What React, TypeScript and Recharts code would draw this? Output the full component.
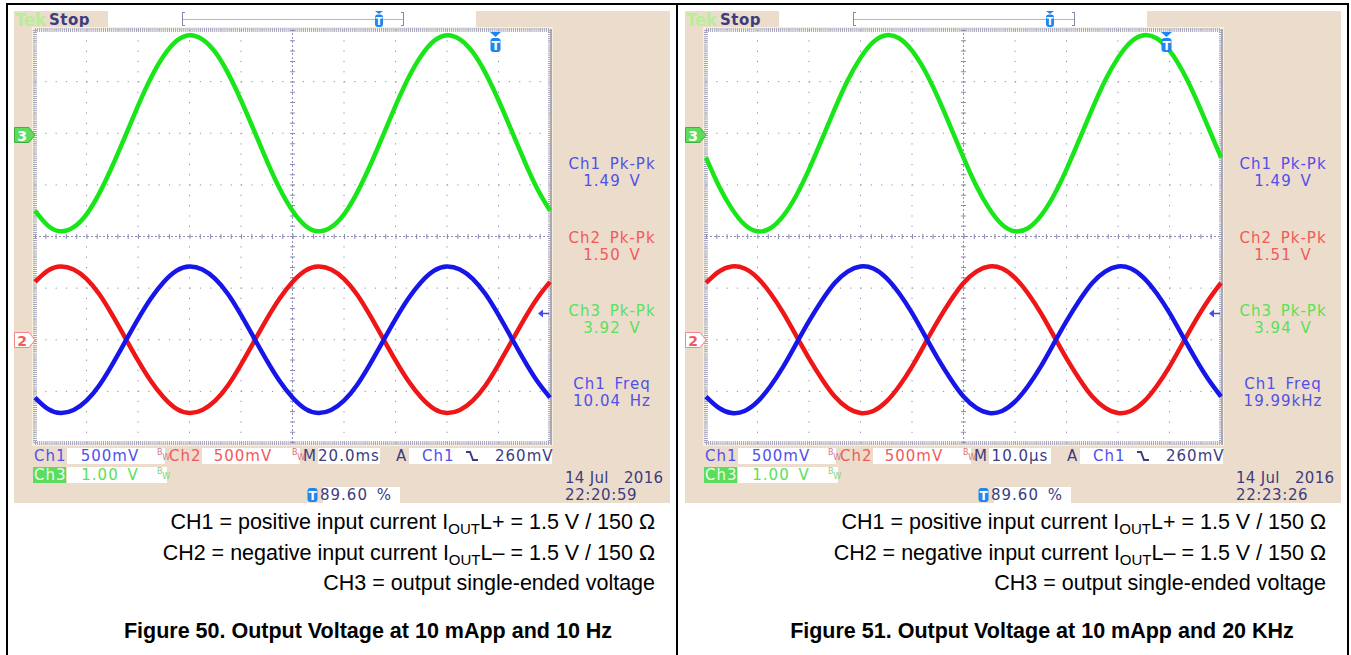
import React from 'react';
import { LineChart, Line, XAxis, YAxis, CartesianGrid, ReferenceLine } from 'recharts';

// Figure 50: 10 Hz, 20.0 ms/div. Time in ms, channel values in volts (relative to channel ground)
const fig50Time = [0, 5, 10, 15, 20, 25, 30, 35, 40, 45, 50, 55, 60, 65, 70, 75, 80, 85, 90, 95, 100, 105, 110, 115, 120, 125, 130, 135, 140, 145, 150, 155, 160, 165, 170, 175, 180, 185, 190, 195, 200];
const fig50Ch1 = [-0.56, -0.67, -0.71, -0.68, -0.59, -0.44, -0.24, -0.02, 0.2, 0.4, 0.56, 0.67, 0.71, 0.68, 0.59, 0.44, 0.24, 0.02, -0.2, -0.4, -0.56, -0.67, -0.71, -0.68, -0.59, -0.44, -0.24, -0.02, 0.2, 0.4, 0.56, 0.67, 0.71, 0.68, 0.59, 0.44, 0.24, 0.02, -0.2, -0.4, -0.56];
const fig50Ch2 = [0.56, 0.67, 0.71, 0.68, 0.59, 0.44, 0.24, 0.02, -0.2, -0.4, -0.56, -0.67, -0.71, -0.68, -0.59, -0.44, -0.24, -0.02, 0.2, 0.4, 0.56, 0.67, 0.71, 0.68, 0.59, 0.44, 0.24, 0.02, -0.2, -0.4, -0.56, -0.67, -0.71, -0.68, -0.59, -0.44, -0.24, -0.02, 0.2, 0.4, 0.56];
const fig50Ch3 = [-1.5, -1.79, -1.9, -1.82, -1.57, -1.16, -0.64, -0.06, 0.53, 1.07, 1.5, 1.79, 1.9, 1.82, 1.57, 1.16, 0.64, 0.06, -0.53, -1.07, -1.5, -1.79, -1.9, -1.82, -1.57, -1.16, -0.64, -0.06, 0.53, 1.07, 1.5, 1.79, 1.9, 1.82, 1.57, 1.16, 0.64, 0.06, -0.53, -1.07, -1.5];

// Figure 51: 20 kHz, 10.0 us/div. Time in us
const fig51Time = [0, 2.5, 5, 7.5, 10, 12.5, 15, 17.5, 20, 22.5, 25, 27.5, 30, 32.5, 35, 37.5, 40, 42.5, 45, 47.5, 50, 52.5, 55, 57.5, 60, 62.5, 65, 67.5, 70, 72.5, 75, 77.5, 80, 82.5, 85, 87.5, 90, 92.5, 95, 97.5, 100];
const fig51Ch1 = [-0.55, -0.66, -0.71, -0.69, -0.6, -0.45, -0.26, -0.04, 0.18, 0.38, 0.55, 0.66, 0.71, 0.69, 0.6, 0.45, 0.26, 0.04, -0.18, -0.38, -0.55, -0.66, -0.71, -0.69, -0.6, -0.45, -0.26, -0.04, 0.18, 0.38, 0.55, 0.66, 0.71, 0.69, 0.6, 0.45, 0.26, 0.04, -0.18, -0.38, -0.55];
const fig51Ch2 = [0.55, 0.66, 0.71, 0.69, 0.6, 0.45, 0.26, 0.04, -0.18, -0.38, -0.55, -0.66, -0.71, -0.69, -0.6, -0.45, -0.26, -0.04, 0.18, 0.38, 0.55, 0.66, 0.71, 0.69, 0.6, 0.45, 0.26, 0.04, -0.18, -0.38, -0.55, -0.66, -0.71, -0.69, -0.6, -0.45, -0.26, -0.04, 0.18, 0.38, 0.55];
const fig51Ch3 = [-0.47, -1.02, -1.46, -1.77, -1.9, -1.84, -1.6, -1.21, -0.7, -0.12, 0.47, 1.02, 1.46, 1.77, 1.9, 1.84, 1.6, 1.21, 0.7, 0.12, -0.47, -1.02, -1.46, -1.77, -1.9, -1.84, -1.6, -1.21, -0.7, -0.12, 0.47, 1.02, 1.46, 1.77, 1.9, 1.84, 1.6, 1.21, 0.7, 0.12, -0.47];

const fig50XTicks = [0, 20, 40, 60, 80, 100, 120, 140, 160, 180, 200];
const fig51XTicks = [0, 10, 20, 30, 40, 50, 60, 70, 80, 90, 100];
const divTicks = [-4, -3, -2, -1, 0, 1, 2, 3, 4];

// vertical settings (V/div and ground position in divisions)
const CH1_VDIV = 0.5;
const CH2_VDIV = 0.5;
const CH3_VDIV = 1.0;
const CH1_POS = -2;
const CH2_POS = -2;
const CH3_POS = 2;

const fig50Readouts = ['1.49 V', '1.50 V', '3.92 V', '10.04 Hz'];
const fig51Readouts = ['1.49 V', '1.51 V', '3.94 V', '19.99kHz'];

const BEIGE = '#ecdccb';
const NAVY = '#3c3c80';
const BLUE_T = '#5050ea';
const RED_T = '#f25a5a';
const GREEN_T = '#5ae05a';
const TRACE_G = '#18e618';
const TRACE_R = '#ee1616';
const TRACE_B = '#1616e8';
const GRID = '#8e8eb4';
const SCOPE_FONT = '"DejaVu Sans", sans-serif';
const DOC_FONT = '"Liberation Sans", Arial, sans-serif';

const Txt = ({ x, y, w = 120, align = 'left', color = NAVY, size = 15, bold = false, family = SCOPE_FONT, spacing = 1, words = 3, children }: any) => (
  <div
    style={{
      position: 'absolute',
      left: align === 'center' ? x - w / 2 : x,
      top: y - 10,
      width: w,
      height: 20,
      lineHeight: '20px',
      textAlign: align,
      color,
      fontSize: size,
      fontWeight: bold ? 700 : 400,
      fontFamily: family,
      letterSpacing: spacing,
      wordSpacing: words,
      whiteSpace: 'nowrap',
    }}
  >
    {children}
  </div>
);

const Box = ({ x, y, w, h = 16 }: any) => (
  <div style={{ position: 'absolute', left: x, top: y, width: w, height: h, background: '#fff' }} />
);

const BW = ({ x, y, color }: any) => (
  <div style={{ position: 'absolute', left: x, top: y, width: 10, height: 14, fontFamily: SCOPE_FONT, fontSize: 8, color, lineHeight: '8px' }}>
    <span>B</span>
    <span style={{ position: 'relative', top: 5 }}>W</span>
  </div>
);

const TIcon = ({ x, y, arrow = false }: any) => (
  <svg style={{ position: 'absolute', left: x, top: y }} width={13} height={arrow ? 22 : 16}>
    {arrow && <path d="M1 0 H12 L6.5 5 Z" fill="#1e86ee" />}
    <rect x={1.5} y={arrow ? 6 : 1} width={10} height={14} rx={3} fill="#1e86ee" />
    <text x={6.5} y={arrow ? 18 : 13} textAnchor="middle" fontSize={12} fontWeight={700} fill="#fff" fontFamily={SCOPE_FONT}>T</text>
  </svg>
);

const Flag = ({ x, y, label, fill, stroke, color }: any) => (
  <svg style={{ position: 'absolute', left: x, top: y }} width={22} height={17}>
    <path d="M0.5 0.5 H15 L21 8 L15 15.5 H0.5 Z" fill={fill} stroke={stroke} />
    <text x={8} y={13.5} textAnchor="middle" fontSize={14} fontWeight={700} fill={color} fontFamily={SCOPE_FONT}>{label}</text>
  </svg>
);

const subStyle = { fontSize: 15, position: 'relative' as const, top: 5 };

function ScopePanel({ base, time, ch1, ch2, ch3, xMax, xTicks, readouts, timebase, clock, titleCenter, title }: any) {
  const rows = time.map((t: number, i: number) => ({
    t,
    c1: ch1[i] / CH1_VDIV + CH1_POS,
    c2: ch2[i] / CH2_VDIV + CH2_POS,
    c3: ch3[i] / CH3_VDIV + CH3_POS,
  }));

  const measures = [
    { label: 'Ch1 Pk-Pk', color: BLUE_T, y: 164 },
    { label: 'Ch2 Pk-Pk', color: RED_T, y: 238 },
    { label: 'Ch3 Pk-Pk', color: GREEN_T, y: 311 },
    { label: 'Ch1 Freq', color: BLUE_T, y: 384 },
  ];

  return (
    <>
      {/* scope screen background */}
      <div style={{ position: 'absolute', left: base + 14, top: 11, width: 656, height: 492, background: BEIGE }} />

      {/* top status bar */}
      <Txt x={base + 15} y={19.5} color="#b6ef98" size={17} bold spacing={-0.5}>Tek</Txt>
      <Txt x={base + 49} y={19.5} color={NAVY} size={15} bold spacing={0.5}>Stop</Txt>
      <Box x={base + 108} y={11} w={368} h={16} />
      <div style={{ position: 'absolute', left: base + 183, top: 19, width: 220, height: 1, background: '#66ee66' }} />
      <div style={{ position: 'absolute', left: base + 182, top: 12, width: 3, height: 14, border: '1px solid #8888a8', borderRight: 'none', boxSizing: 'border-box' }} />
      <div style={{ position: 'absolute', left: base + 401, top: 12, width: 3, height: 14, border: '1px solid #8888a8', borderLeft: 'none', boxSizing: 'border-box' }} />
      <svg style={{ position: 'absolute', left: base + 374, top: 11 }} width={10} height={17}>
        <path d="M1 0 H9 L5 3 Z" fill="#1e86ee" />
        <rect x={1} y={3.5} width={8} height={12.5} rx={3} fill="#1e86ee" />
        <text x={5} y={14} textAnchor="middle" fontSize={10} fontWeight={700} fill="#fff" fontFamily={SCOPE_FONT}>T</text>
      </svg>

      {/* graticule frame */}
      <div style={{ position: 'absolute', left: base + 32, top: 27, width: 521, height: 419, background: '#f6f0dc' }} />
      <div style={{ position: 'absolute', left: base + 550, top: 29, width: 2, height: 416, background: '#b4aca4' }} />

      <div style={{ position: 'absolute', left: base + 31, top: 26 }}>
        <LineChart width={523} height={421} data={rows} margin={{ top: 4, right: 4, bottom: 4, left: 4 }}>
          <XAxis type="number" dataKey="t" domain={[0, xMax]} ticks={xTicks} hide />
          <YAxis type="number" domain={[-4, 4]} ticks={divTicks} hide />
          <CartesianGrid stroke={GRID} strokeDasharray="1.2 9.1" fill="#ffffff" fillOpacity={1} />
          {/* edge rulers */}
          <ReferenceLine y={4} stroke="#a4a4bc" strokeWidth={4} strokeDasharray="1 1.06" />
          <ReferenceLine y={-4} stroke="#a4a4bc" strokeWidth={4} strokeDasharray="1 1.06" />
          <ReferenceLine x={0} stroke="#a4a4bc" strokeWidth={4} strokeDasharray="1 1.06" />
          <ReferenceLine x={xMax} stroke="#a4a4bc" strokeWidth={4} strokeDasharray="1 1.06" />
          {/* centre crosshair */}
          <ReferenceLine y={0} stroke={GRID} strokeDasharray="2 2" />
          <ReferenceLine y={0} stroke={GRID} strokeWidth={5} strokeDasharray="1 9.3" />
          <ReferenceLine x={xMax / 2} stroke={GRID} strokeDasharray="2 2" />
          <ReferenceLine x={xMax / 2} stroke={GRID} strokeWidth={5} strokeDasharray="1 9.3" />
          <Line type="natural" dataKey="c3" stroke={TRACE_G} strokeWidth={4.5} dot={false} isAnimationActive={false} />
          <Line type="natural" dataKey="c2" stroke={TRACE_R} strokeWidth={4.5} dot={false} isAnimationActive={false} />
          <Line type="natural" dataKey="c1" stroke={TRACE_B} strokeWidth={4.5} dot={false} isAnimationActive={false} />
        </LineChart>
      </div>

      {/* markers */}
      <TIcon x={base + 489} y={32} arrow />
      <Flag x={base + 14} y={127} label="3" fill="#5cdc5c" stroke="#3fb03f" color="#ffffff" />
      <Flag x={base + 14} y={332} label="2" fill="#ffffff" stroke="#f08888" color="#f05a5a" />
      <svg style={{ position: 'absolute', left: base + 537, top: 308 }} width={13} height={11}>
        <path d="M1 5.5 L6 1.5 V9.5 Z" fill="#4a4ae6" />
        <path d="M5 5.5 H12" stroke="#4a4ae6" strokeWidth={1.5} />
      </svg>

      {/* measurements */}
      {measures.map((m, i) => (
        <React.Fragment key={m.label}>
          <Txt x={base + 612} y={m.y} w={110} align="center" color={m.color}>{m.label}</Txt>
          <Txt x={base + 612} y={m.y + 17} w={110} align="center" color={m.color}>{readouts[i]}</Txt>
        </React.Fragment>
      ))}

      {/* bottom readouts, row 1 */}
      <Txt x={base + 34} y={455.5} color={BLUE_T}>Ch1</Txt>
      <Box x={base + 67} y={448} w={98} />
      <Txt x={base + 110} y={455.5} w={80} align="center" color={BLUE_T}>500mV</Txt>
      <BW x={base + 157} y={449} color="#d27a96" />
      <Txt x={base + 169} y={455.5} color={RED_T}>Ch2</Txt>
      <Box x={base + 202} y={448} w={98} />
      <Txt x={base + 243} y={455.5} w={80} align="center" color={RED_T}>500mV</Txt>
      <BW x={base + 292} y={449} color="#e07070" />
      <Txt x={base + 303} y={455.5} color={NAVY}>M</Txt>
      <Box x={base + 318} y={448} w={62} />
      <Txt x={base + 349} y={455.5} w={70} align="center" color={NAVY}>{timebase}</Txt>
      <Txt x={base + 396} y={455.5} color={NAVY}>A</Txt>
      <Box x={base + 409} y={448} w={143} />
      <Txt x={base + 422} y={455.5} color={BLUE_T}>Ch1</Txt>
      <svg style={{ position: 'absolute', left: base + 465, top: 449 }} width={14} height={14}>
        <path d="M1 3 H5 L8 11 H13" stroke={NAVY} strokeWidth={2} fill="none" />
      </svg>
      <Txt x={base + 495} y={455.5} color={NAVY}>260mV</Txt>

      {/* row 2 */}
      <div style={{ position: 'absolute', left: base + 33, top: 467, width: 33, height: 16, background: '#5cdc5c' }} />
      <Txt x={base + 34} y={475} color="#eaffea">Ch3</Txt>
      <Box x={base + 67} y={467} w={100} />
      <Txt x={base + 110} y={475} w={80} align="center" color={GREEN_T}>1.00 V</Txt>
      <BW x={base + 157} y={468} color="#7cd67c" />

      {/* row 3 */}
      <TIcon x={base + 306} y={487} />
      <Box x={base + 323} y={487} w={77} />
      <Txt x={base + 356} y={495} w={80} align="center" color={NAVY}>89.60 %</Txt>
      <Txt x={base + 565} y={478} color={NAVY} spacing={0.3} words={0}>14 Jul&nbsp;&nbsp;&nbsp;2016</Txt>
      <Txt x={base + 565} y={495} color={NAVY} spacing={0.6}>{clock}</Txt>

      {/* caption */}
      <div
        style={{
          position: 'absolute',
          left: base + 40,
          top: 508,
          width: 615,
          textAlign: 'right',
          fontFamily: DOC_FONT,
          fontSize: 21.5,
          lineHeight: '29.5px',
          color: '#000',
          whiteSpace: 'nowrap',
        }}
      >
        <div>CH1 = positive input current I<span style={subStyle}>OUT</span>L+ = 1.5 V / 150 Ω</div>
        <div>CH2 = negative input current I<span style={subStyle}>OUT</span>L– = 1.5 V / 150 Ω</div>
        <div>CH3 = output single-ended voltage</div>
      </div>
      <Txt x={titleCenter} y={631} w={620} align="center" color="#000" size={21.5} bold family={DOC_FONT} spacing={0} words={0}>{title}</Txt>
    </>
  );
}

export default function App() {
  return (
    <div style={{ position: 'absolute', left: 0, top: 0, width: 1351, height: 655, background: '#fff', overflow: 'hidden' }}>
      {/* page frame */}
      <div style={{ position: 'absolute', left: 6, top: 3, width: 1343, height: 2, background: '#000' }} />
      <div style={{ position: 'absolute', left: 6, top: 3, width: 2, height: 660, background: '#000' }} />
      <div style={{ position: 'absolute', left: 676, top: 3, width: 2, height: 660, background: '#000' }} />
      <div style={{ position: 'absolute', left: 1347, top: 3, width: 2, height: 660, background: '#000' }} />

      <ScopePanel
        base={0}
        time={fig50Time}
        ch1={fig50Ch1}
        ch2={fig50Ch2}
        ch3={fig50Ch3}
        xMax={200}
        xTicks={fig50XTicks}
        readouts={fig50Readouts}
        timebase="20.0ms"
        clock="22:20:59"
        titleCenter={368}
        title="Figure 50. Output Voltage at 10 mApp and 10 Hz"
      />
      <ScopePanel
        base={671}
        time={fig51Time}
        ch1={fig51Ch1}
        ch2={fig51Ch2}
        ch3={fig51Ch3}
        xMax={100}
        xTicks={fig51XTicks}
        readouts={fig51Readouts}
        timebase="10.0µs"
        clock="22:23:26"
        titleCenter={1042}
        title="Figure 51. Output Voltage at 10 mApp and 20 KHz"
      />
    </div>
  );
}
